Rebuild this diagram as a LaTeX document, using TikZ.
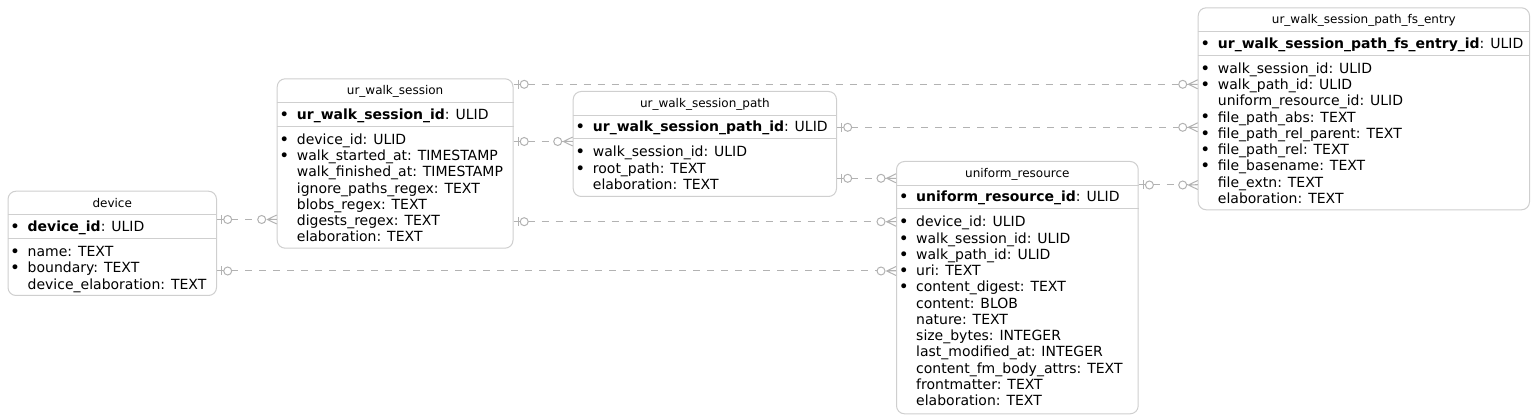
\documentclass[tikz,border=0pt]{standalone}
\usepackage{fontspec}
\setmainfont{DejaVu Sans}
\usepackage{xcolor}
\usepackage{tikz}
\usetikzlibrary{positioning}

\definecolor{boxline}{HTML}{CFCFCF}
\definecolor{relline}{HTML}{B2B2B2}
\newcommand\bl{\llap{\makebox[25pt]{\smash{\raisebox{-0.9pt}{\scalebox{1.2}{•}}}}}}

\begin{document}
\begin{tikzpicture}[
    x=1pt, y=-1pt,
    entity/.style={
        draw=boxline,
        line width=1pt,
        rounded corners=8pt,
        fill=white,
        inner sep=0pt,
        anchor=north west
    },
    sepline/.style={
        draw=boxline,
        line width=1pt
    },
    ttl/.style={
        font=\fontsize{12}{14}\selectfont,
        anchor=base,
        inner sep=0pt
    },
    attr/.style={
        font=\fontsize{14}{16}\selectfont,
        anchor=base west,
        inner sep=0pt
    },
    rel/.style={
        draw=relline,
        line width=1pt,
        dash pattern=on 7pt off 7pt
    },
    zeroone/.pic={
        \draw[relline, line width=1pt] (0,0) -- (6.7,0);
        \draw[relline, line width=1pt] (4.7,-4.5) -- (4.7,4.5);
        \draw[relline, line width=1pt, fill=white] (10.7,0) circle (4pt);
    },
    zeromany/.pic={
        \draw[relline, line width=1pt, fill=white] (-15,0) circle (4pt);
        \draw[relline, line width=1pt] (0,-4.5) -- (-9.3,0) -- (0,4.5) (-9.3,0) -- (0,0);
    }
]
\useasboundingbox (0,0) rectangle (1539,419);

% device
\node[entity, minimum width=208.5pt, minimum height=104.3pt] (device) at (7.5,190.7) {};
\node[ttl] (device-t) at ([yshift=-16.5pt]device.north) {device};
\draw[sepline] ([yshift=-24.3pt]device.north west) -- ([yshift=-24.3pt]device.north east);
\node[attr] (device-pk) at ([xshift=20pt, yshift=-41pt]device.north west) {\bl\textbf{device\_id}: ULID};
\draw[sepline] ([yshift=-48pt]device.north west) -- ([yshift=-48pt]device.north east);
\foreach \txt [count=\i] in {\bl name: TEXT, \bl boundary: TEXT, device\_elaboration: TEXT}
    \node[attr] (device-\i) at ([xshift=20pt, yshift={-(49.75+16.25*\i)*1pt}]device.north west) {\txt};

% ur_walk_session
\node[entity, minimum width=235.8pt, minimum height=169.4pt] (ws) at (276.7,78.3) {};
\node[ttl] (ws-t) at ([yshift=-16.5pt]ws.north) {ur\_walk\_session};
\draw[sepline] ([yshift=-24.3pt]ws.north west) -- ([yshift=-24.3pt]ws.north east);
\node[attr] (ws-pk) at ([xshift=20pt, yshift=-41pt]ws.north west) {\bl\textbf{ur\_walk\_session\_id}: ULID};
\draw[sepline] ([yshift=-48pt]ws.north west) -- ([yshift=-48pt]ws.north east);
\foreach \txt [count=\i] in {\bl device\_id: ULID, \bl walk\_started\_at: TIMESTAMP,
    walk\_finished\_at: TIMESTAMP, ignore\_paths\_regex: TEXT, blobs\_regex: TEXT,
    digests\_regex: TEXT, elaboration: TEXT}
    \node[attr] (ws-\i) at ([xshift=20pt, yshift={-(49.75+16.25*\i)*1pt}]ws.north west) {\txt};

% ur_walk_session_path
\node[entity, minimum width=263.3pt, minimum height=105pt] (wsp) at (572.7,91) {};
\node[ttl] (wsp-t) at ([yshift=-16.5pt]wsp.north) {ur\_walk\_session\_path};
\draw[sepline] ([yshift=-24.3pt]wsp.north west) -- ([yshift=-24.3pt]wsp.north east);
\node[attr] (wsp-pk) at ([xshift=20pt, yshift=-41pt]wsp.north west) {\bl\textbf{ur\_walk\_session\_path\_id}: ULID};
\draw[sepline] ([yshift=-48pt]wsp.north west) -- ([yshift=-48pt]wsp.north east);
\foreach \txt [count=\i] in {\bl walk\_session\_id: ULID, \bl root\_path: TEXT, elaboration: TEXT}
    \node[attr] (wsp-\i) at ([xshift=20pt, yshift={-(49.75+16.25*\i)*1pt}]wsp.north west) {\txt};

% uniform_resource
\node[entity, minimum width=241.7pt, minimum height=252.3pt] (ur) at (896,161) {};
\node[ttl] (ur-t) at ([yshift=-16.5pt]ur.north) {uniform\_resource};
\draw[sepline] ([yshift=-24.3pt]ur.north west) -- ([yshift=-24.3pt]ur.north east);
\node[attr] (ur-pk) at ([xshift=20pt, yshift=-41pt]ur.north west) {\bl\textbf{uniform\_resource\_id}: ULID};
\draw[sepline] ([yshift=-48pt]ur.north west) -- ([yshift=-48pt]ur.north east);
\foreach \txt [count=\i] in {\bl device\_id: ULID, \bl walk\_session\_id: ULID,
    \bl walk\_path\_id: ULID, \bl uri: TEXT, \bl content\_digest: TEXT, content: BLOB,
    nature: TEXT, size\_bytes: INTEGER, last\_modified\_at: INTEGER,
    content\_fm\_body\_attrs: TEXT, frontmatter: TEXT, elaboration: TEXT}
    \node[attr] (ur-\i) at ([xshift=20pt, yshift={-(49.75+16.25*\i)*1pt}]ur.north west) {\txt};

% ur_walk_session_path_fs_entry
\node[entity, minimum width=331.3pt, minimum height=202pt] (fs) at (1197.7,7.3) {};
\node[ttl] (fs-t) at ([yshift=-16.5pt]fs.north) {ur\_walk\_session\_path\_fs\_entry};
\draw[sepline] ([yshift=-24.3pt]fs.north west) -- ([yshift=-24.3pt]fs.north east);
\node[attr] (fs-pk) at ([xshift=20pt, yshift=-41pt]fs.north west) {\bl\textbf{ur\_walk\_session\_path\_fs\_entry\_id}: ULID};
\draw[sepline] ([yshift=-48pt]fs.north west) -- ([yshift=-48pt]fs.north east);
\foreach \txt [count=\i] in {\bl walk\_session\_id: ULID, \bl walk\_path\_id: ULID,
    uniform\_resource\_id: ULID, \bl file\_path\_abs: TEXT, \bl file\_path\_rel\_parent: TEXT,
    \bl file\_path\_rel: TEXT, \bl file\_basename: TEXT, file\_extn: TEXT, elaboration: TEXT}
    \node[attr] (fs-\i) at ([xshift=20pt, yshift={-(49.75+16.25*\i)*1pt}]fs.north west) {\txt};

% relations
\draw[rel] (ws.east |- 0,84.3) -- (fs.west |- 0,84.3);
\draw[rel] (wsp.east |- 0,127.3) -- (fs.west |- 0,127.3);
\draw[rel] (ur.east |- 0,185) -- (fs.west |- 0,185);
\draw[rel] (wsp.east |- 0,178.3) -- (ur.west |- 0,178.3);
\draw[rel] (ws.east |- 0,221.7) -- (ur.west |- 0,221.7);
\draw[rel] (ws.east |- 0,141.5) -- (wsp.west |- 0,141.5);
\draw[rel] (device.east |- 0,219.5) -- (ws.west |- 0,219.5);
\draw[rel] (device.east |- 0,271) -- (ur.west |- 0,271);

\pic at (ws.east |- 0,84.3) {zeroone};
\pic at (fs.west |- 0,84.3) {zeromany};
\pic at (wsp.east |- 0,127.3) {zeroone};
\pic at (fs.west |- 0,127.3) {zeromany};
\pic at (ur.east |- 0,185) {zeroone};
\pic at (fs.west |- 0,185) {zeromany};
\pic at (wsp.east |- 0,178.3) {zeroone};
\pic at (ur.west |- 0,178.3) {zeromany};
\pic at (ws.east |- 0,221.7) {zeroone};
\pic at (ur.west |- 0,221.7) {zeromany};
\pic at (ws.east |- 0,141.5) {zeroone};
\pic at (wsp.west |- 0,141.5) {zeromany};
\pic at (device.east |- 0,219.5) {zeroone};
\pic at (ws.west |- 0,219.5) {zeromany};
\pic at (device.east |- 0,271) {zeroone};
\pic at (ur.west |- 0,271) {zeromany};

\end{tikzpicture}
\end{document}
